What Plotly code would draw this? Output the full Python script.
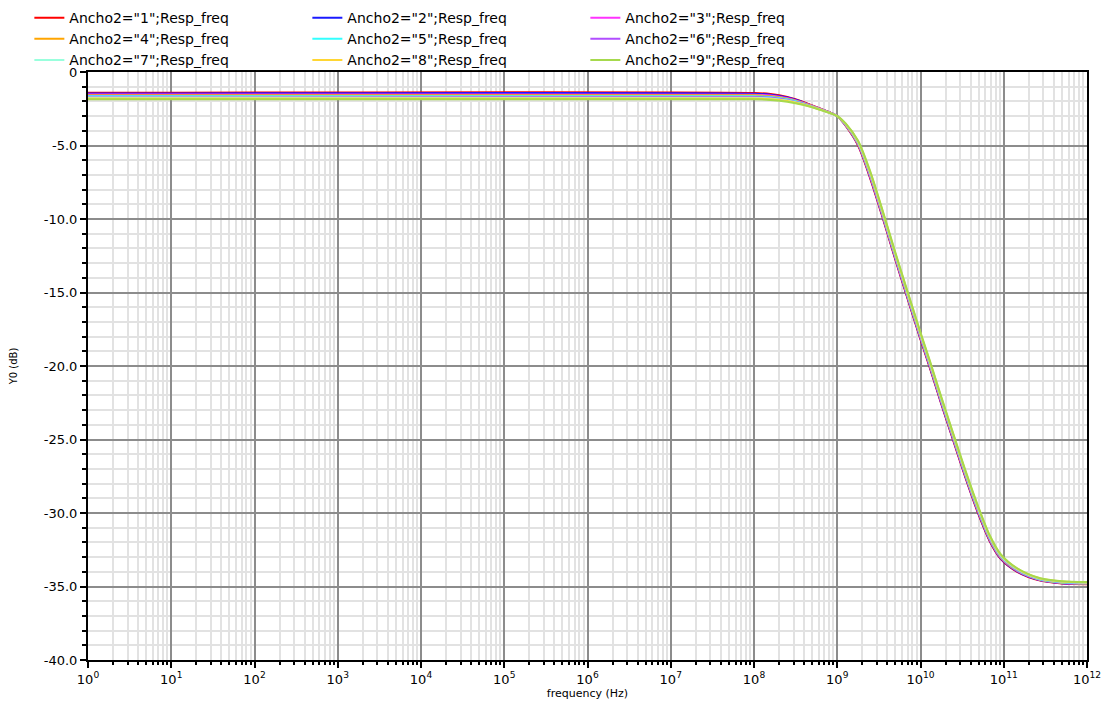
import plotly.graph_objects as go

# frequency points (Hz)
freq = [1, 1e8, 1.58e8, 2.51e8, 3.98e8, 6.31e8, 1e9, 1.26e9, 1.78e9, 2.51e9,
        3.55e9, 5.01e9, 6.46e9, 1e10, 1.29e10, 1.78e10, 2.45e10, 3.47e10,
        4.9e10, 6.76e10, 9.12e10, 1.45e11, 2.75e11, 5.01e11, 1e12]

ancho1 = [-1.42, -1.43, -1.50, -1.70, -2.05, -2.50, -3.00, -3.65, -5.00, -7.30, -10.00, -12.80, -14.80,
          -18.20, -20.10, -22.60, -25.00, -27.60, -30.00, -31.90, -33.10, -34.00, -34.60, -34.80, -34.85]
ancho2 = [-1.47, -1.48, -1.55, -1.74, -2.08, -2.51, -3.00, -3.63, -4.96, -7.24, -9.94, -12.74, -14.74,
          -18.14, -20.04, -22.54, -24.94, -27.54, -29.94, -31.85, -33.06, -33.97, -34.58, -34.78, -34.83]
ancho3 = [-1.53, -1.54, -1.60, -1.78, -2.10, -2.52, -3.00, -3.61, -4.92, -7.18, -9.88, -12.68, -14.68,
          -18.08, -19.98, -22.48, -24.88, -27.48, -29.88, -31.80, -33.02, -33.94, -34.56, -34.76, -34.81]
ancho4 = [-1.58, -1.59, -1.65, -1.82, -2.13, -2.53, -3.00, -3.59, -4.88, -7.12, -9.82, -12.62, -14.62,
          -18.02, -19.92, -22.42, -24.82, -27.42, -29.82, -31.75, -32.98, -33.91, -34.54, -34.74, -34.80]
ancho5 = [-1.64, -1.65, -1.70, -1.86, -2.15, -2.54, -3.00, -3.57, -4.84, -7.06, -9.76, -12.56, -14.56,
          -17.96, -19.86, -22.36, -24.76, -27.36, -29.76, -31.70, -32.94, -33.88, -34.52, -34.72, -34.78]
ancho6 = [-1.69, -1.70, -1.75, -1.90, -2.18, -2.55, -3.00, -3.55, -4.80, -7.00, -9.70, -12.50, -14.50,
          -17.90, -19.80, -22.30, -24.70, -27.30, -29.70, -31.65, -32.90, -33.85, -34.50, -34.70, -34.76]
ancho7 = [-1.74, -1.75, -1.80, -1.94, -2.20, -2.56, -3.00, -3.53, -4.76, -6.94, -9.64, -12.44, -14.44,
          -17.84, -19.74, -22.24, -24.64, -27.24, -29.64, -31.60, -32.86, -33.82, -34.48, -34.68, -34.74]
ancho8 = [-1.80, -1.81, -1.85, -1.98, -2.23, -2.57, -3.00, -3.51, -4.72, -6.88, -9.58, -12.38, -14.38,
          -17.78, -19.68, -22.18, -24.58, -27.18, -29.58, -31.55, -32.82, -33.79, -34.46, -34.66, -34.72]
ancho9 = [-1.85, -1.86, -1.90, -2.02, -2.25, -2.58, -3.00, -3.49, -4.68, -6.82, -9.52, -12.32, -14.32,
          -17.72, -19.62, -22.12, -24.52, -27.12, -29.52, -31.50, -32.78, -33.76, -34.44, -34.64, -34.70]

series_names = ['Ancho2="1";Resp_freq', 'Ancho2="2";Resp_freq', 'Ancho2="3";Resp_freq',
                'Ancho2="4";Resp_freq', 'Ancho2="5";Resp_freq', 'Ancho2="6";Resp_freq',
                'Ancho2="7";Resp_freq', 'Ancho2="8";Resp_freq', 'Ancho2="9";Resp_freq']
series_values = [ancho1, ancho2, ancho3, ancho4, ancho5, ancho6, ancho7, ancho8, ancho9]
series_colors = ['#ff0000', '#1a1aff', '#ff33ff', '#ffa500', '#33ffff',
                 '#b14dff', '#99ffdd', '#ffd633', '#a6d94d']

x_tickvals = [10 ** i for i in range(13)]
x_ticktext = ['10<sup>%d</sup>' % i for i in range(13)]
y_tickvals = [0, -5, -10, -15, -20, -25, -30, -35, -40]
y_ticktext = ['0', '-5.0', '-10.0', '-15.0', '-20.0', '-25.0', '-30.0', '-35.0', '-40.0']

FONT = 'DejaVu Sans'

fig = go.Figure()
for name, vals, col in zip(series_names, series_values, series_colors):
    fig.add_trace(go.Scatter(x=freq, y=vals, name=name, mode='lines',
                             line=dict(color=col, width=2, shape='spline', smoothing=0.8)))

fig.update_layout(
    width=1104, height=693,
    margin=dict(l=80, r=25, t=64, b=41, autoexpand=False),
    paper_bgcolor='white', plot_bgcolor='white',
    font=dict(family=FONT, size=12, color='black'),
    showlegend=True,
    legend=dict(orientation='h', xref='paper', yref='paper',
                x=-0.0587, y=1.119, xanchor='left', yanchor='top',
                entrywidth=233, entrywidthmode='pixels',
                font=dict(family=FONT, size=14, color='black'),
                bgcolor='rgba(0,0,0,0)', itemwidth=30, tracegroupgap=0),
    xaxis=dict(type='log', range=[0, 12],
               tickvals=x_tickvals, ticktext=x_ticktext,
               showgrid=True, gridcolor='#8c8c8c', gridwidth=2,
               ticks='outside', ticklen=6, tickwidth=1.5, tickcolor='black',
               showline=True, linecolor='black', linewidth=2, mirror=True,
               zeroline=False,
               tickfont=dict(family=FONT, size=13),
               title=dict(text='frequency (Hz)', font=dict(family=FONT, size=11), standoff=0),
               minor=dict(dtick='D1', showgrid=True, gridcolor='#e2e2e2', gridwidth=2,
                          ticks='outside', ticklen=3, tickcolor='black')),
    yaxis=dict(range=[-40, 0],
               tickvals=y_tickvals, ticktext=y_ticktext,
               showgrid=True, gridcolor='#8c8c8c', gridwidth=2,
               ticks='outside', ticklen=6, tickwidth=1.5, tickcolor='black',
               showline=True, linecolor='black', linewidth=2, mirror=True,
               zeroline=False,
               tickfont=dict(family=FONT, size=13),
               title=dict(text='Y0 (dB)', font=dict(family=FONT, size=10), standoff=30),
               minor=dict(dtick=1, showgrid=True, gridcolor='#e2e2e2', gridwidth=2,
                          ticks='outside', ticklen=4, tickcolor='black')),
)

fig.write_html('out.html')
